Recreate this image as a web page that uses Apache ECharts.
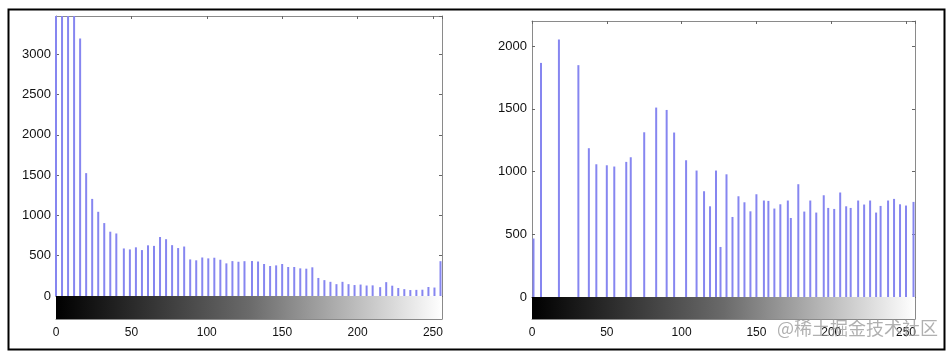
<!DOCTYPE html>
<html>
<head>
<meta charset="utf-8">
<style>
  html, body { margin: 0; padding: 0; background: #fff; }
  #chart { width: 950px; height: 354px; }
</style>
<script src="https://cdn.jsdelivr.net/npm/echarts@6/dist/echarts.min.js"></script>
</head>
<body>
<div id="chart"></div>
<script>
  // left histogram: 64 bins of the original image
  var leftLevels = [0, 4, 8, 12, 16, 20, 24, 28, 32, 36, 40, 45, 49, 53, 57, 61, 65, 69, 73, 77, 81,
    85, 89, 93, 97, 101, 105, 109, 113, 117, 121, 125, 130, 134, 138, 142, 146, 150, 154, 158, 162,
    166, 170, 174, 178, 182, 186, 190, 194, 198, 202, 206, 210, 215, 219, 223, 227, 231, 235, 239,
    243, 247, 251, 255]
  var leftCounts = [5400, 7600, 6200, 4700, 3195, 1525, 1205, 1045, 905, 798, 776, 590, 578, 604,
    570, 629, 622, 732, 705, 631, 595, 614, 454, 443, 478, 467, 475, 450, 405, 433, 425, 432, 434,
    428, 397, 372, 380, 397, 360, 360, 343, 339, 356, 224, 197, 176, 147, 176, 147, 136, 142, 130,
    132, 110, 172, 128, 99, 85, 74, 76, 78, 112, 105, 432]

  // right histogram: after equalization
  var rightLevels = [1, 6, 18, 31, 38, 43, 50, 55, 63, 66, 75, 83, 90, 95, 103, 110, 115, 119, 123,
    126, 130, 134, 138, 142, 146, 150, 155, 158, 162, 166, 171, 173, 178, 182, 186, 190, 195, 198,
    202, 206, 210, 213, 218, 222, 226, 230, 233, 238, 242, 246, 250, 255]
  var rightCounts = [466, 1866, 2053, 1848, 1186, 1058, 1050, 1040, 1077, 1114, 1313, 1510, 1491,
    1311, 1090, 1008, 843, 723, 1008, 399, 978, 638, 803, 755, 683, 819, 769, 766, 705, 739, 769,
    630, 899, 681, 769, 673, 811, 710, 702, 833, 723, 710, 769, 737, 769, 673, 726, 769, 782, 739,
    729, 758]

  // gray ramp under each histogram
  var grayRange = [0, 256]

  var leftMax = 3475
  var rightMax = 2200

  var chart = echarts.init(document.getElementById('chart'))

  var stemColor = '#8686f0'
  var boxColor = '#8a8a8a'

  function stems(levels, counts) {
    return levels.map(function (x, i) {
      return [x, counts[i]]
    })
  }

  function plain(v) {
    return String(v)
  }

  function rampItem(params, api) {
    var p0 = api.coord([api.value(0), 1])
    var p1 = api.coord([api.value(1), 0])
    return {
      type: 'rect',
      shape: { x: p0[0], y: p0[1], width: p1[0] - p0[0], height: p1[1] - p0[1] },
      style: {
        fill: new echarts.graphic.LinearGradient(0, 0, 1, 0, [
          { offset: 0, color: '#000' },
          { offset: 0.5, color: '#6a6a6a' },
          { offset: 1, color: '#fff' }
        ])
      }
    }
  }

  function histX(grid) {
    return [
      {
        gridIndex: grid, type: 'value', min: 0, max: 256, position: 'bottom',
        axisLine: { show: true, onZero: false, lineStyle: { color: '#333' } },
        axisTick: { show: false }, axisLabel: { show: false }, splitLine: { show: false }
      },
      {
        gridIndex: grid, type: 'value', min: 0, max: 256, interval: 50, position: 'top',
        axisLine: { show: true, onZero: false, lineStyle: { color: boxColor } },
        axisTick: { show: true, inside: true, length: 3, lineStyle: { color: '#666' } },
        axisLabel: { show: false }, splitLine: { show: false }
      }
    ]
  }

  function rampX(grid) {
    return {
      gridIndex: grid, type: 'value', min: 0, max: 256, interval: 50, position: 'bottom',
      axisLine: { show: true, onZero: false, lineStyle: { color: boxColor } },
      axisTick: { show: true, inside: true, length: 3, lineStyle: { color: '#666' } },
      axisLabel: {
        show: true, showMaxLabel: false, margin: 8, color: '#111', fontSize: 12,
        fontFamily: 'Liberation Sans', formatter: plain
      },
      splitLine: { show: false }
    }
  }

  function histY(grid, max) {
    return [
      {
        gridIndex: grid, type: 'value', min: 0, max: max, interval: 500, position: 'left',
        axisLine: { show: true, onZero: false, lineStyle: { color: boxColor } },
        axisTick: { show: true, inside: true, length: 3, lineStyle: { color: '#666' } },
        axisLabel: {
          show: true, showMaxLabel: false, margin: 5, color: '#111', fontSize: 13,
          fontFamily: 'Liberation Sans', formatter: plain
        },
        splitLine: { show: false }
      },
      {
        gridIndex: grid, type: 'value', min: 0, max: max, interval: 500, position: 'right',
        axisLine: { show: true, onZero: false, lineStyle: { color: boxColor } },
        axisTick: { show: true, inside: true, length: 3, lineStyle: { color: '#666' } },
        axisLabel: { show: false }, splitLine: { show: false }
      }
    ]
  }

  function rampY(grid) {
    return [
      {
        gridIndex: grid, type: 'value', min: 0, max: 1, position: 'left',
        axisLine: { show: true, onZero: false, lineStyle: { color: boxColor } },
        axisTick: { show: false }, axisLabel: { show: false }, splitLine: { show: false }
      },
      {
        gridIndex: grid, type: 'value', min: 0, max: 1, position: 'right',
        axisLine: { show: true, onZero: false, lineStyle: { color: boxColor } },
        axisTick: { show: false }, axisLabel: { show: false }, splitLine: { show: false }
      }
    ]
  }

  chart.setOption({
    animation: false,
    backgroundColor: '#fff',
    grid: [
      { left: 56, top: 16, width: 386, height: 280 },
      { left: 56, top: 296, width: 386, height: 23 },
      { left: 532, top: 21, width: 383, height: 276 },
      { left: 532, top: 297, width: 383, height: 22 }
    ],
    // 0,1: left hist / 2: left ramp / 3,4: right hist / 5: right ramp
    xAxis: [].concat(histX(0), [rampX(1)], histX(2), [rampX(3)]),
    yAxis: [].concat(histY(0, leftMax), rampY(1), histY(2, rightMax), rampY(3)),
    series: [
      {
        type: 'bar', xAxisIndex: 0, yAxisIndex: 0, barWidth: 2, clip: true,
        itemStyle: { color: stemColor },
        data: stems(leftLevels, leftCounts)
      },
      {
        type: 'custom', xAxisIndex: 2, yAxisIndex: 2,
        renderItem: rampItem, data: [grayRange]
      },
      {
        type: 'bar', xAxisIndex: 3, yAxisIndex: 4, barWidth: 2, clip: true,
        itemStyle: { color: stemColor },
        data: stems(rightLevels, rightCounts)
      },
      {
        type: 'custom', xAxisIndex: 5, yAxisIndex: 6,
        renderItem: rampItem, data: [grayRange]
      }
    ],
    graphic: [
      {
        type: 'rect', left: 6, top: 7, silent: true,
        shape: { width: 936, height: 340 },
        style: { fill: null, stroke: '#000', lineWidth: 2 }
      },
      {
        type: 'text', left: 777, top: 319, z: 100, silent: true,
        style: {
          text: '@稀土掘金技术社区', fill: 'rgba(150,150,150,0.75)',
          font: '18px "Noto Sans CJK SC"'
        }
      }
    ]
  })
</script>
</body>
</html>
